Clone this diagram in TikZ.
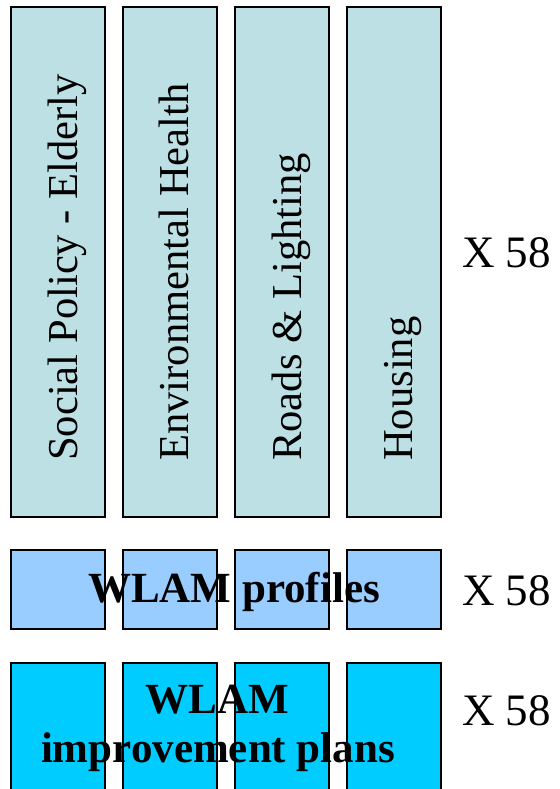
\documentclass[tikz,border=0pt]{standalone}
\usepackage{fontspec}
\setmainfont{Liberation Serif}
\definecolor{deptfill}{HTML}{BCE0E3}
\definecolor{proffill}{HTML}{99CCFF}
\definecolor{planfill}{HTML}{00CCFF}
\begin{document}
\begin{tikzpicture}[x=1pt,y=-1pt,
  col/.style={draw=black,line width=2pt,inner sep=0pt,minimum width=94pt},
  dept/.style={col,fill=deptfill,minimum height=510pt},
  prof/.style={col,fill=proffill,minimum height=79pt},
  plan/.style={col,fill=planfill,minimum height=140pt},
  vlabel/.style={rotate=90,anchor=base west,inner sep=0pt,font=\fontsize{42.6}{48}\selectfont},
  count/.style={anchor=base west,inner sep=0pt,font=\fontsize{45}{50}\selectfont},
  bold/.style={anchor=base,inner sep=0pt,font=\fontsize{43}{49}\selectfont\bfseries}]
\useasboundingbox (0,0) rectangle (559,789);
\clip (0,0) rectangle (559,789);
% department columns
\node[dept] (d1) at (58,262) {};
\node[dept] (d2) at (170,262) {};
\node[dept] (d3) at (282,262) {};
\node[dept] (d4) at (394,262) {};
\node[vlabel] (t1) at (77,461) {Social Policy - Elderly};
\node[vlabel] (t2) at (188,461) {Environmental Health};
\node[vlabel] (t3) at (301,461) {Roads \& Lighting};
\node[vlabel] (t4) at (412,461) {Housing};
\node[count] (c1) at (462,267) {X 58};
% profile row
\node[prof] (p1) at (58,589.5) {};
\node[prof] (p2) at (170,589.5) {};
\node[prof] (p3) at (282,589.5) {};
\node[prof] (p4) at (394,589.5) {};
\node[bold] (pl) at (234,602) {WLAM profiles};
\node[count] (c2) at (462,605) {X 58};
% improvement plan row
\node[plan] (q1) at (58,733) {};
\node[plan] (q2) at (170,733) {};
\node[plan] (q3) at (282,733) {};
\node[plan] (q4) at (394,733) {};
\node[bold] (ql1) at (217,713) {WLAM};
\node[bold] (ql2) at (218,762) {improvement plans};
\node[count] (c3) at (462,725) {X 58};
\end{tikzpicture}
\end{document}
